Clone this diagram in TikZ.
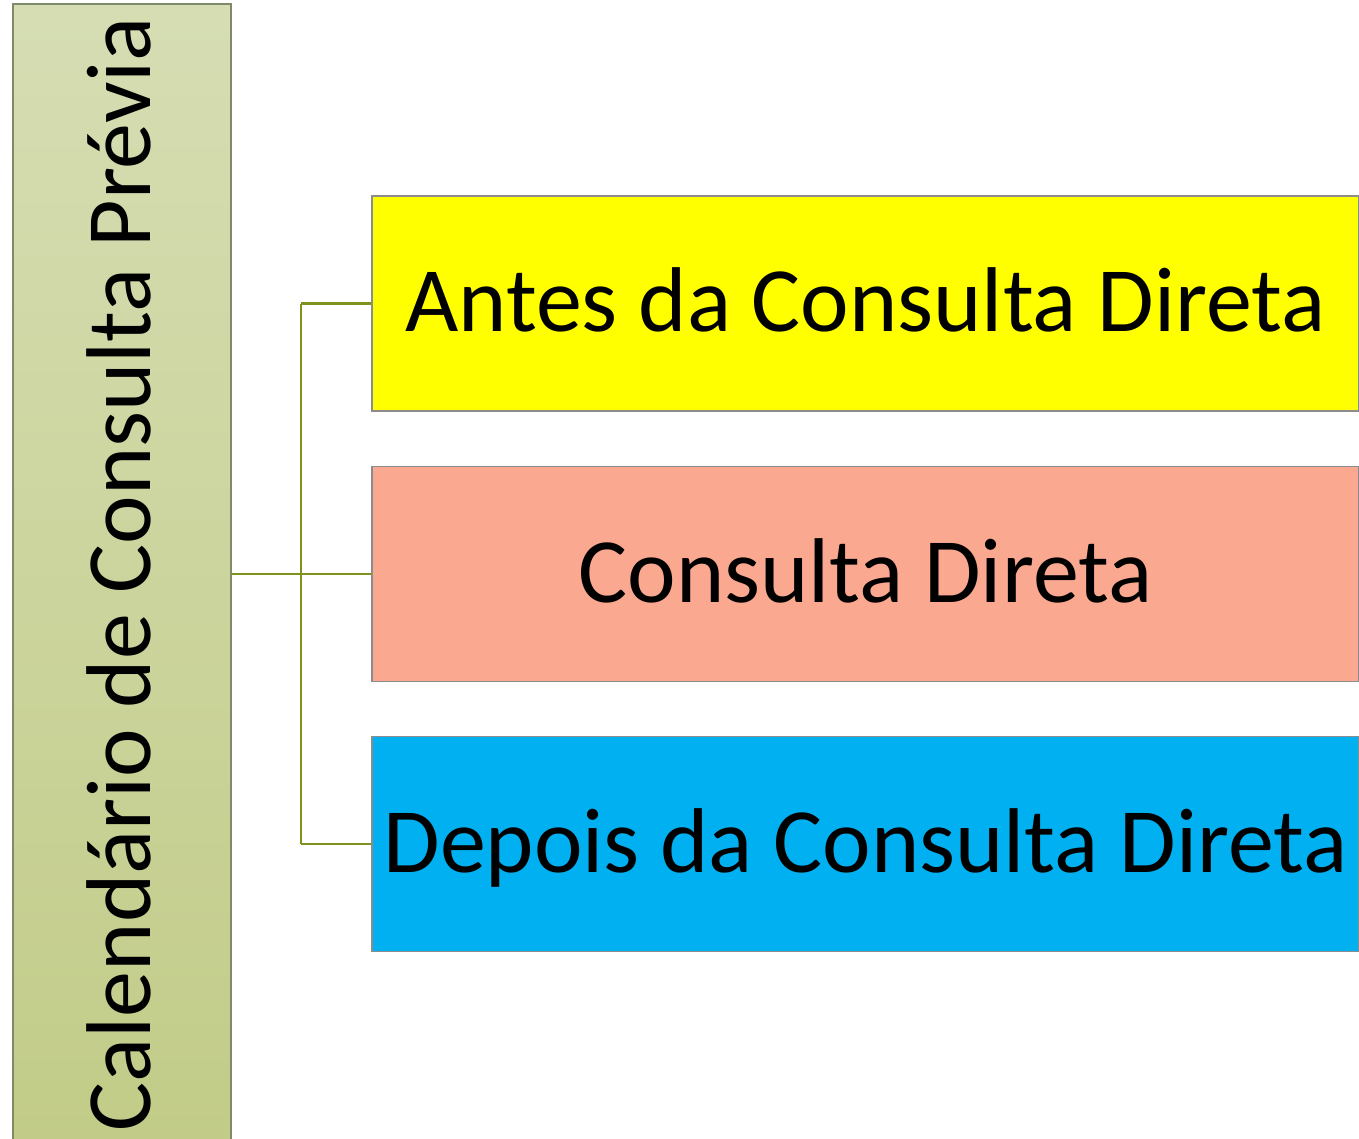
\documentclass[tikz,border=0pt]{standalone}
\usepackage{fontspec}
\setmainfont{Carlito}
\usepackage{tikz}

\definecolor{barlight}{HTML}{D6DDB3}
\definecolor{bardark}{HTML}{C2CC88}
\definecolor{barline}{HTML}{7F8A6A}
\definecolor{linkgreen}{HTML}{7E931B}
\definecolor{boxline}{HTML}{8C8C8C}
\definecolor{antes}{HTML}{FFFF00}
\definecolor{durante}{HTML}{FAA890}
\definecolor{depois}{HTML}{00B0F0}

\tikzset{
  bar/.style={draw=barline, line width=1.5pt, rotate=90, top color=barlight, bottom color=bardark,
    minimum width=1140pt, minimum height=218pt, inner sep=0pt, text height=56pt, text depth=0pt},
  phase/.style={draw=boxline, line width=1.5pt, minimum width=987pt, minimum height=215pt,
    inner sep=0pt, text height=56pt, text depth=0pt},
  link/.style={draw=linkgreen, line width=2.5pt}
}

\begin{document}
\begin{tikzpicture}[x=1pt,y=-1pt,font=\fontsize{92}{106}\selectfont]
            \useasboundingbox (0,0) rectangle (1359,1138);

            \node [bar] (cal) at (122,574) {Calendário de Consulta Prévia};

            \node [phase, fill=antes] (ant) at (865.5,303.5) {Antes da Consulta Direta};
            \node [phase, fill=durante] (con) at (865.5,574) {Consulta Direta};
            \node [phase, fill=depois] (dep) at (865.5,844) {Depois da Consulta Direta};

            \coordinate (fork) at (301,574);

            \draw [link] (cal.south |- con.west) -- (con.west);
            \draw [link] (fork |- ant.west) -- (fork |- dep.west);
            \draw [link] (fork |- ant.west) -- (ant.west);
            \draw [link] (fork |- dep.west) -- (dep.west);
        \end{tikzpicture}
\end{document}
